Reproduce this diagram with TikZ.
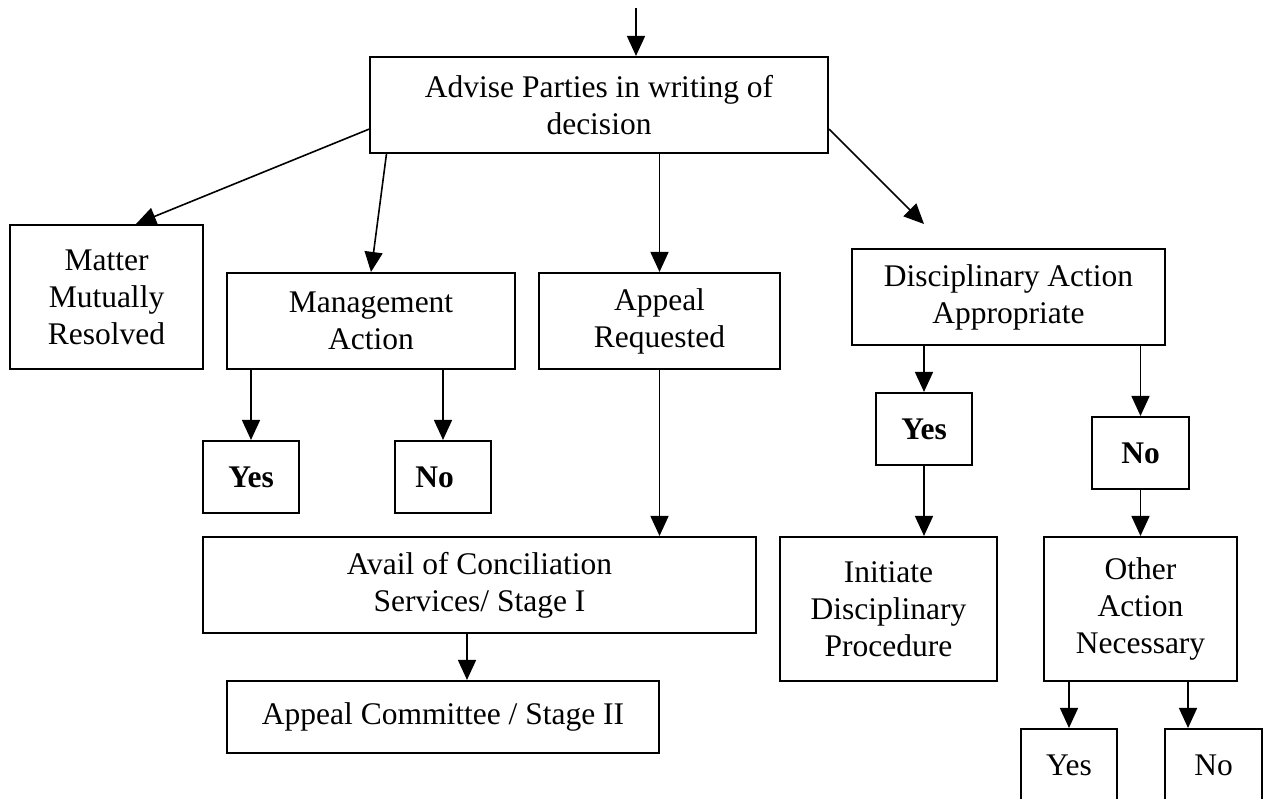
\documentclass[tikz,border=0pt]{standalone}
\usepackage{fontspec}
\setmainfont{Liberation Serif}
\usetikzlibrary{arrows.meta}
\begin{document}
\begin{tikzpicture}[x=1pt,y=-1pt,
  box/.style={draw,line width=2.1pt,rectangle,inner sep=2pt,align=center,
    font=\fontsize{31.5}{37}\selectfont},
  arr/.style={line width=1.6pt,-{Triangle[length=20pt,width=18pt]}}]
\clip (0,0) rectangle (1268,798);
\fill[white] (0,0) rectangle (1268,798);
% nodes
\node[box,minimum width=458pt,minimum height=96pt] (adv) at (599,105) {Advise Parties in writing of\\decision};
\node[box,minimum width=193pt,minimum height=144pt] (matter) at (106.5,297) {Matter\\Mutually\\Resolved};
\node[box,minimum width=288pt,minimum height=96pt] (mgmt) at (371,321) {Management\\Action};
\node[box,minimum width=241pt,minimum height=96pt] (appreq) at (659.5,321) {Appeal\\Requested};
\node[box,minimum width=313pt,minimum height=96pt] (disc) at (1008.5,297) {Disciplinary Action\\Appropriate};
\node[box,minimum width=96pt,minimum height=72pt] (myes) at (251,477) {\textbf{Yes}};
\node[box,minimum width=96pt,minimum height=72pt] (mno) at (443,477) {\textbf{No}\hspace*{17pt}};
\node[box,minimum width=553pt,minimum height=96pt] (concil) at (479.5,585) {Avail of Conciliation\\Services/ Stage I};
\node[box,minimum width=432pt,minimum height=72pt] (comm) at (443,717) {Appeal Committee / Stage II};
\node[box,minimum width=96pt,minimum height=72pt] (dyes) at (924,429) {\textbf{Yes}};
\node[box,minimum width=97pt,minimum height=72pt] (dno) at (1140.5,453) {\textbf{No}};
\node[box,minimum width=217pt,minimum height=144pt] (init) at (888.5,609) {Initiate\\Disciplinary\\Procedure};
\node[box,minimum width=193pt,minimum height=144pt] (other) at (1140.5,609) {Other\\Action\\Necessary};
\node[box,minimum width=96pt,minimum height=72pt] (oyes) at (1069,765) {Yes};
\node[box,minimum width=97pt,minimum height=72pt] (ono) at (1213.5,765) {No};
\coordinate (top) at (636,8);
\coordinate (dfree) at (924,224);
% connectors
\draw[arr] (top) -- (top |- adv.north);
\draw[arr] (adv.186) -- (matter.68);
\draw[arr] (adv.193) -- (mgmt.north);
\draw[arr] (adv.south -| appreq.north) -- (appreq.north);
\draw[arr] (adv.354) -- (dfree);
\draw[arr] (mgmt.south -| myes.north) -- (myes.north);
\draw[arr] (mgmt.south -| mno.north) -- (mno.north);
\draw[arr] (appreq.south) -- (appreq.south |- concil.north);
\draw[arr] ([xshift=-12.5pt]concil.south) -- ([xshift=-12.5pt]concil.south |- comm.north);
\draw[arr] (disc.south -| dyes.north) -- (dyes.north);
\draw[arr] (disc.south -| dno.north) -- (dno.north);
\draw[arr] (dyes.south) -- (dyes.south |- init.north);
\draw[arr] (dno.south) -- (other.north);
\draw[arr] (other.south -| oyes.north) -- (oyes.north);
\draw[arr] ([xshift=-25.5pt]ono.north |- other.south) -- ([xshift=-25.5pt]ono.north);
\end{tikzpicture}
\end{document}
